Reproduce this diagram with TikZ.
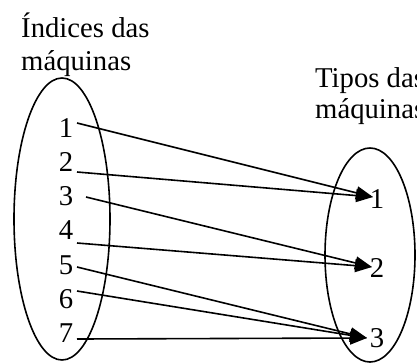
\documentclass[tikz,border=0pt]{standalone}
\usepackage{fontspec}
\setmainfont{Liberation Serif}
\usetikzlibrary{arrows.meta}
\begin{document}
\begin{tikzpicture}[x=1pt,y=-1pt,
  lbl/.style={inner sep=0pt,font=\fontsize{28.7}{33}\selectfont},
  title/.style={lbl,anchor=base west},
  num/.style={lbl,anchor=base},
  conn/.style={line width=1.6pt,-{Triangle[length=17pt,width=13pt]}},
  oval/.style={line width=1.6pt}]
\useasboundingbox (0,0) rectangle (417,362);
\clip (0,0) rectangle (417,362);
% titles
\node[title] (t1a) at (21,37) {Índices das};
\node[title] (t1b) at (21,70) {máquinas};
\node[title] (t2a) at (315,87) {Tipos das};
\node[title] (t2b) at (315,118) {máquinas};
% ovals
\draw[oval] (62,219) ellipse [x radius=48pt, y radius=141pt];
\draw[oval] (370,255) ellipse [x radius=45pt, y radius=107pt];
% left numbers
\foreach \i/\y in {1/137,2/171.3,3/205.6,4/239.9,5/274.2,6/308.5,7/342.8}
  \node[num] (L\i) at (66,\y) {\i};
% right numbers
\node[num] (R1) at (377,208) {1};
\node[num] (R2) at (377,277) {2};
\node[num] (R3) at (377,347) {3};
% connector ends
\coordinate (s1) at (77,123);
\coordinate (s2) at (77,172);
\coordinate (s3) at (86,197);
\coordinate (s4) at (77,243);
\coordinate (s5) at (77,267);
\coordinate (s6) at (77,291);
\coordinate (s7) at (77,339);
\coordinate (e1) at (373,197);
\coordinate (e2) at (372,267);
\coordinate (e3) at (367,338);
% connectors
\draw[conn] (s1) -- (e1);
\draw[conn] (s2) -- (e1);
\draw[conn] (s3) -- (e2);
\draw[conn] (s4) -- (e2);
\draw[conn] (s5) -- (e3);
\draw[conn] (s6) -- (e3);
\draw[conn] (s7) -- (e3);
\end{tikzpicture}
\end{document}
